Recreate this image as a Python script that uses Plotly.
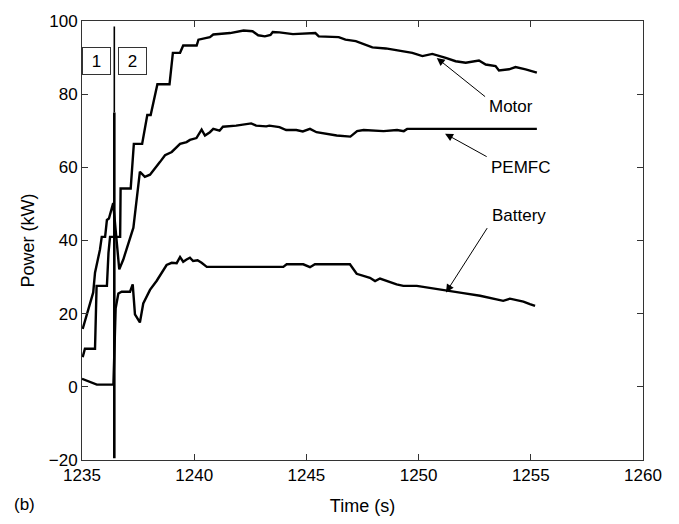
import plotly.graph_objects as go

# ---- data ----
motor_t = [1235.03, 1235.13, 1235.58, 1235.65, 1236.11, 1236.18, 1236.25, 1236.70, 1236.72,
           1237.17, 1237.31, 1237.68, 1237.91, 1238.06, 1238.36, 1238.90, 1239.05, 1239.37,
           1239.51, 1240.11, 1240.19, 1240.70, 1240.85, 1241.60, 1242.20, 1242.60, 1242.85,
           1243.15, 1243.40, 1243.50, 1243.80, 1244.40, 1245.40, 1245.55, 1246.44, 1246.74,
           1247.20, 1247.64, 1247.94, 1248.54, 1249.13, 1249.72, 1250.17, 1250.61, 1251.21,
           1251.65, 1252.10, 1252.69, 1252.99, 1253.43, 1253.58, 1254.03, 1254.32, 1254.77,
           1255.27]
motor_p = [8.1, 10.4, 10.4, 27.6, 27.6, 36.6, 41.0, 41.0, 54.2,
           54.2, 66.4, 66.4, 74.3, 74.3, 82.7, 82.7, 91.3, 91.3,
           93.3, 93.3, 94.9, 95.6, 96.3, 96.7, 97.4, 97.2, 96.1,
           95.8, 96.2, 97.0, 96.9, 96.4, 96.7, 95.8, 95.6, 94.9,
           94.5, 93.6, 92.8, 92.5, 91.9, 91.3, 90.4, 91.0, 89.9,
           89.0, 88.6, 89.2, 88.1, 87.7, 86.5, 86.8, 87.4, 86.8,
           85.9]

pemfc_t = [1235.03, 1235.50, 1235.58, 1235.80, 1235.88, 1236.03, 1236.11, 1236.20, 1236.39,
           1236.66, 1236.84, 1237.14, 1237.29, 1237.58, 1237.80, 1238.03, 1238.25, 1238.48,
           1238.70, 1239.00, 1239.37, 1239.66, 1239.81, 1240.10, 1240.33, 1240.48, 1240.70,
           1240.85, 1241.13, 1241.28, 1241.87, 1242.31, 1242.54, 1242.76, 1243.21, 1243.35,
           1243.80, 1244.10, 1244.55, 1244.84, 1245.16, 1245.45, 1245.90, 1246.35, 1246.96,
           1247.26, 1247.55, 1248.44, 1249.04, 1249.34, 1249.49, 1255.27]
pemfc_p = [15.8, 25.8, 31.2, 37.5, 41.0, 41.0, 45.6, 46.0, 50.2,
           32.1, 34.8, 40.7, 43.5, 58.8, 57.4, 58.0, 59.6, 61.5,
           63.3, 64.2, 66.4, 66.9, 67.5, 68.0, 70.3, 68.7, 69.6,
           70.5, 70.0, 71.1, 71.4, 71.7, 72.0, 71.4, 71.2, 71.4,
           71.0, 70.2, 70.2, 69.8, 70.5, 69.6, 69.2, 68.7, 68.4,
           69.9, 70.2, 69.9, 70.2, 69.9, 70.5, 70.5]

battery_t = [1235.00, 1235.36, 1235.66, 1236.40, 1236.50, 1236.62, 1236.77, 1237.14, 1237.26,
             1237.36, 1237.58, 1237.73, 1238.03, 1238.33, 1238.55, 1238.77, 1239.00, 1239.22,
             1239.37, 1239.51, 1239.66, 1239.81, 1239.95, 1240.15, 1240.33, 1240.56, 1243.97,
             1244.12, 1244.86, 1245.16, 1245.38, 1246.94, 1247.24, 1247.83, 1248.06, 1248.28,
             1249.02, 1249.32, 1249.92, 1250.81, 1251.25, 1251.99, 1252.74, 1253.77, 1254.07,
             1254.67, 1254.96, 1255.19]
battery_p = [2.2, 1.4, 0.6, 0.6, 21.5, 25.5, 26.0, 26.0, 28.0,
             19.8, 17.6, 22.8, 26.5, 29.0, 31.2, 33.3, 33.9, 33.8,
             35.5, 34.2, 34.8, 35.3, 34.4, 34.6, 33.9, 32.8, 32.8,
             33.5, 33.5, 32.7, 33.5, 33.5, 30.9, 29.8, 28.9, 29.6,
             28.0, 27.6, 27.6, 26.7, 26.2, 25.6, 24.9, 23.5, 24.1,
             23.3, 22.6, 22.1]

divider_t = [1236.44, 1236.44]
divider_lower_p = [-19.5, 75.0]
divider_upper_p = [75.0, 98.5]

labels = ["Motor", "PEMFC", "Battery"]
label_pos = [(1254.12, 76.6), (1254.56, 60.0), (1254.47, 46.7)]
arrow_head = [(1250.81, 89.9), (1251.18, 69.2), (1251.22, 25.8)]
arrow_tail = [(1253.03, 79.0), (1253.10, 62.7), (1253.10, 43.8)]

zone_labels = ["1", "2"]
zone_pos = [(1235.65, 89.1), (1237.27, 89.1)]

x_ticks = [1235, 1240, 1245, 1250, 1255, 1260]
y_ticks = [-20, 0, 20, 40, 60, 80, 100]

FONT = "Liberation Sans, Arial, sans-serif"
LW = 2.4

fig = go.Figure()
for t, p in [(motor_t, motor_p), (pemfc_t, pemfc_p), (battery_t, battery_p)]:
    fig.add_trace(go.Scatter(x=t, y=p, mode="lines",
                             line=dict(color="black", width=LW), showlegend=False,
                             hoverinfo="skip"))
fig.add_trace(go.Scatter(x=divider_t, y=divider_lower_p, mode="lines",
                         line=dict(color="black", width=2.6), showlegend=False))
fig.add_trace(go.Scatter(x=divider_t, y=divider_upper_p, mode="lines",
                         line=dict(color="black", width=1.6), showlegend=False))

annotations = []
for lab, (lx, ly), (hx, hy), (tx, ty) in zip(labels, label_pos, arrow_head, arrow_tail):
    annotations.append(dict(x=lx, y=ly, xref="x", yref="y", text=lab, showarrow=False,
                            font=dict(family=FONT, size=17, color="black")))
    annotations.append(dict(x=hx, y=hy, xref="x", yref="y", ax=tx, ay=ty,
                            axref="x", ayref="y", text="", showarrow=True,
                            arrowhead=2, arrowsize=1.6, arrowwidth=1, arrowcolor="black"))
for lab, (zx, zy) in zip(zone_labels, zone_pos):
    annotations.append(dict(x=zx, y=zy, xref="x", yref="y", text=lab, showarrow=False,
                            font=dict(family=FONT, size=17, color="black"),
                            bordercolor="#333", borderwidth=1, borderpad=1,
                            width=25, height=24, bgcolor="white"))
annotations.append(dict(x=(24 - 82) / 561, y=(524 - 507 - 62) / 442, xref="paper", yref="paper",
                        text="(b)", showarrow=False, xanchor="center", yanchor="middle",
                        font=dict(family=FONT, size=17, color="black")))

fig.update_layout(
    width=679, height=524,
    margin=dict(l=82, r=36, t=20, b=62),
    paper_bgcolor="white", plot_bgcolor="white",
    font=dict(family=FONT, size=17, color="black"),
    annotations=annotations,
)

fig.update_xaxes(range=[1235, 1260], tickvals=x_ticks, ticks="inside", ticklen=6,
                 tickcolor="#333", showline=True, linecolor="#333", linewidth=1,
                 mirror="ticks", showgrid=False, zeroline=False,
                 title=dict(text="Time (s)", font=dict(family=FONT, size=18), standoff=14),
                 tickfont=dict(family=FONT, size=17))
fig.update_yaxes(range=[-20, 100], tickvals=y_ticks, ticks="inside", ticklen=6,
                 tickcolor="#333", showline=True, linecolor="#333", linewidth=1,
                 mirror="ticks", showgrid=False, zeroline=False,
                 title=dict(text="Power (kW)", font=dict(family=FONT, size=18), standoff=9),
                 tickfont=dict(family=FONT, size=17))

fig.write_html("out.html")
